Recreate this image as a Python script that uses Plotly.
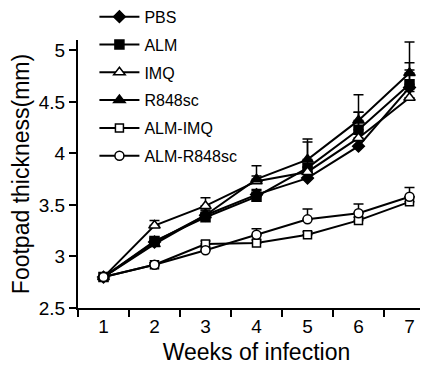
import plotly.graph_objects as go

weeks = ["1", "2", "3", "4", "5", "6", "7"]
series_names = ["PBS", "ALM", "IMQ", "R848sc", "ALM-IMQ", "ALM-R848sc"]
pbs = [2.80, 3.14, 3.40, 3.60, 3.76, 4.07, 4.64]
alm = [2.80, 3.15, 3.38, 3.58, 3.86, 4.23, 4.67]
imq = [2.80, 3.30, 3.49, 3.73, 3.82, 4.15, 4.54]
r848sc = [2.80, 3.12, 3.40, 3.75, 3.94, 4.32, 4.78]
alm_imq = [2.80, 2.92, 3.12, 3.13, 3.21, 3.35, 3.53]
alm_r848sc = [2.80, 2.92, 3.06, 3.21, 3.36, 3.42, 3.58]

pbs_err = [0.01, 0.03, 0.04, 0.05, 0.05, 0.05, 0.17]
alm_err = [0.01, 0.03, 0.04, 0.06, 0.25, 0.17, 0.21]
imq_err = [0.01, 0.05, 0.08, 0.05, 0.05, 0.25, 0.06]
r848sc_err = [0.01, 0.03, 0.05, 0.13, 0.20, 0.25, 0.30]
alm_imq_err = [0.01, 0.02, 0.03, 0.03, 0.03, 0.03, 0.05]
alm_r848sc_err = [0.01, 0.02, 0.03, 0.06, 0.10, 0.09, 0.09]

values = [pbs, alm, imq, r848sc, alm_imq, alm_r848sc]
errors = [pbs_err, alm_err, imq_err, r848sc_err, alm_imq_err, alm_r848sc_err]
symbols = ["diamond", "square", "triangle-up", "triangle-up", "square", "circle"]
fills = ["black", "black", "white", "black", "white", "white"]
sizes = [9, 9, 10, 10, 8, 9]

fig = go.Figure()
for name, vals, err, sym, fill, sz in zip(series_names, values, errors, symbols, fills, sizes):
    fig.add_trace(go.Scatter(
        x=weeks, y=vals, name=name, legendgroup=name,
        mode="lines+markers",
        line=dict(color="black", width=2),
        marker=dict(symbol=sym, size=sz, color=fill, line=dict(color="black", width=1.5)),
        error_y=dict(type="data", array=err, arrayminus=[0] * len(err), symmetric=False,
                     color="black", thickness=1.5, width=5),
    ))

font = "Liberation Sans"
fig.update_layout(
    width=428, height=365,
    margin=dict(l=70, r=1, t=32, b=65, pad=0, autoexpand=False),
    paper_bgcolor="white", plot_bgcolor="white",
    font=dict(family=font, size=19, color="black"),
    showlegend=True,
    legend=dict(xref="paper", yref="paper", x=0.046, y=1.15,
                xanchor="left", yanchor="top", bgcolor="rgba(0,0,0,0)",
                font=dict(size=16), tracegroupgap=4, itemwidth=40),
    xaxis=dict(type="category", range=[-0.5, 6.5], tickson="boundaries",
               showline=True, linecolor="black", linewidth=2,
               ticks="outside", ticklen=7, tickwidth=2, tickcolor="black",
               showgrid=False, zeroline=False,
               title=dict(text="Weeks of infection", standoff=8)),
    yaxis=dict(range=[2.5, 5.1], tickvals=[2.5, 3, 3.5, 4, 4.5, 5],
               ticktext=["2.5", "3", "3.5", "4", "4.5", "5"],
               showline=True, linecolor="black", linewidth=2,
               ticks="outside", ticklen=7, tickwidth=2, tickcolor="black",
               showgrid=False, zeroline=False,
               title=dict(text="Footpad thickness(mm)", standoff=11)),
)

fig.write_html("out.html")
